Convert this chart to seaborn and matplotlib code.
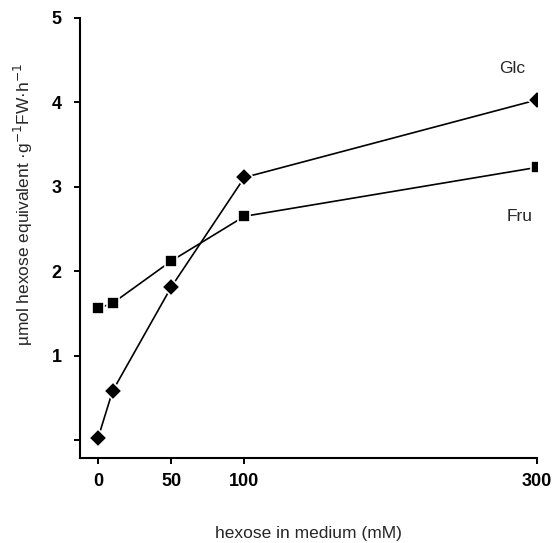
import matplotlib
matplotlib.use('Agg')

import pandas as pd
import seaborn as sns
import matplotlib.pyplot as plt

# hexose in medium (mM)
conc = [0, 10, 50, 100, 300]
glc = [0.02, 0.58, 1.81, 3.11, 4.03]
fru = [1.56, 1.62, 2.12, 2.65, 3.23]
xticks = [0, 50, 100, 300]
yticks = [0, 1, 2, 3, 4, 5]
ytick_labels = ['', '1', '2', '3', '4', '5']

df = pd.DataFrame({
    'conc': conc * 2,
    'rate': glc + fru,
    'sugar': ['Glc'] * len(conc) + ['Fru'] * len(conc),
})

sns.set_style('ticks')
plt.rcParams['font.family'] = ['Liberation Sans', 'DejaVu Sans']

fig = plt.figure(figsize=(5.55, 5.43), dpi=100)
ax = fig.add_axes([0.144, 0.157, 0.824, 0.81])

sns.lineplot(data=df, x='conc', y='rate', style='sugar',
             markers={'Glc': 'D', 'Fru': 's'}, dashes=False,
             color='black', linewidth=1.2, markersize=9,
             markeredgecolor='white', markeredgewidth=1.2,
             legend=False, ax=ax)

ax.set_xlim(-12.3, 300)
ax.set_ylim(-0.21, 5)
ax.set_xticks(xticks)
ax.set_xticklabels([str(t) for t in xticks])
ax.set_yticks(yticks)
ax.set_yticklabels(ytick_labels)
ax.tick_params(axis='both', direction='out', length=4, width=1.4,
               labelsize=13, colors='black')
ax.tick_params(axis='y', pad=9)
ax.tick_params(axis='x', pad=7)
for lab in ax.get_xticklabels() + ax.get_yticklabels():
    lab.set_fontweight('bold')
for s in ['left', 'bottom']:
    ax.spines[s].set_linewidth(1.5)
    ax.spines[s].set_color('black')
sns.despine(ax=ax)

ax.set_xlabel('hexose in medium (mM)', fontsize=12.5, labelpad=26)
ax.set_ylabel('µmol hexose equivalent ·g$^{-1}$FW·h$^{-1}$', fontsize=12.5)
ax.yaxis.set_label_coords(-0.098, 0.575)

ax.text(274, 4.40, 'Glc', fontsize=12.5, ha='left', va='center')
ax.text(279, 2.65, 'Fru', fontsize=12.5, ha='left', va='center')

fig.savefig('out.png', dpi=100)
